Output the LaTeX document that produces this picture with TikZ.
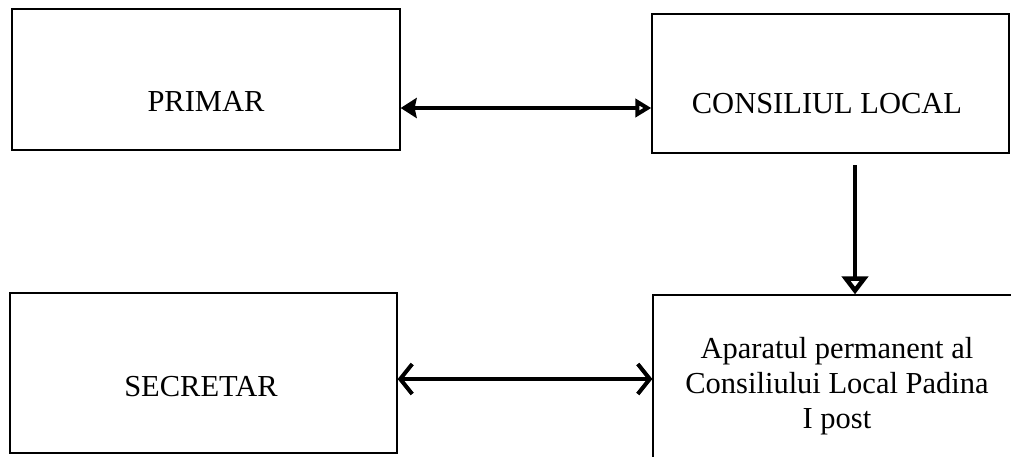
\documentclass[tikz,border=0pt]{standalone}
\usepackage{fontspec}
\setmainfont{Liberation Serif}
\usetikzlibrary{arrows.meta}
\begin{document}
\begin{tikzpicture}[x=1pt,y=-1pt,
  box/.style={draw=black,line width=1.3pt,rectangle,inner sep=0pt},
  lbl/.style={font=\fontsize{30.5}{35}\selectfont,align=center,inner sep=0pt},
  conn/.style={line width=4pt}]
\useasboundingbox (0,0) rectangle (1011,456);
\clip (0,0) rectangle (1011,456);
\fill[white] (0,0) rectangle (1011,456);
\node[box,minimum width=388pt,minimum height=141pt] (primar) at (206,79.5) {};
\node[box,minimum width=357pt,minimum height=139pt] (consiliu) at (830.5,83.5) {};
\node[box,minimum width=387pt,minimum height=160pt] (secretar) at (203.5,373) {};
\node[box,minimum width=362pt,minimum height=175pt] (aparat) at (834,382.5) {};
\node[lbl] (tprimar) at (206,101) {PRIMAR};
\node[lbl] (tconsiliu) at (827,104) {CONSILIUL LOCAL};
\node[lbl] (tsecretar) at (201,387) {SECRETAR};
\node[lbl] (taparat) at (837,386) {Aparatul permanent al\\Consiliului Local Padina\\I post};
\coordinate (h1) at (400,108);
\coordinate (v1) at (855,165);
\coordinate (h2) at (397,379);
\draw[conn,{Stealth[length=16pt,width=20pt,inset=2pt]}-{Triangle[open,length=16pt,width=18pt,line width=4pt]}] (h1 -| primar.east) -- (h1 -| consiliu.west);
\draw[conn,-{Triangle[open,length=18pt,width=26pt,line width=5pt]}] (v1) -- (v1 |- aparat.north);
\draw[conn,{Straight Barb[length=12pt,width=30pt,line width=4pt]}-{Straight Barb[length=12pt,width=30pt,line width=4pt]}] (h2 -| secretar.east) -- (h2 -| aparat.west);
\end{tikzpicture}
\end{document}
